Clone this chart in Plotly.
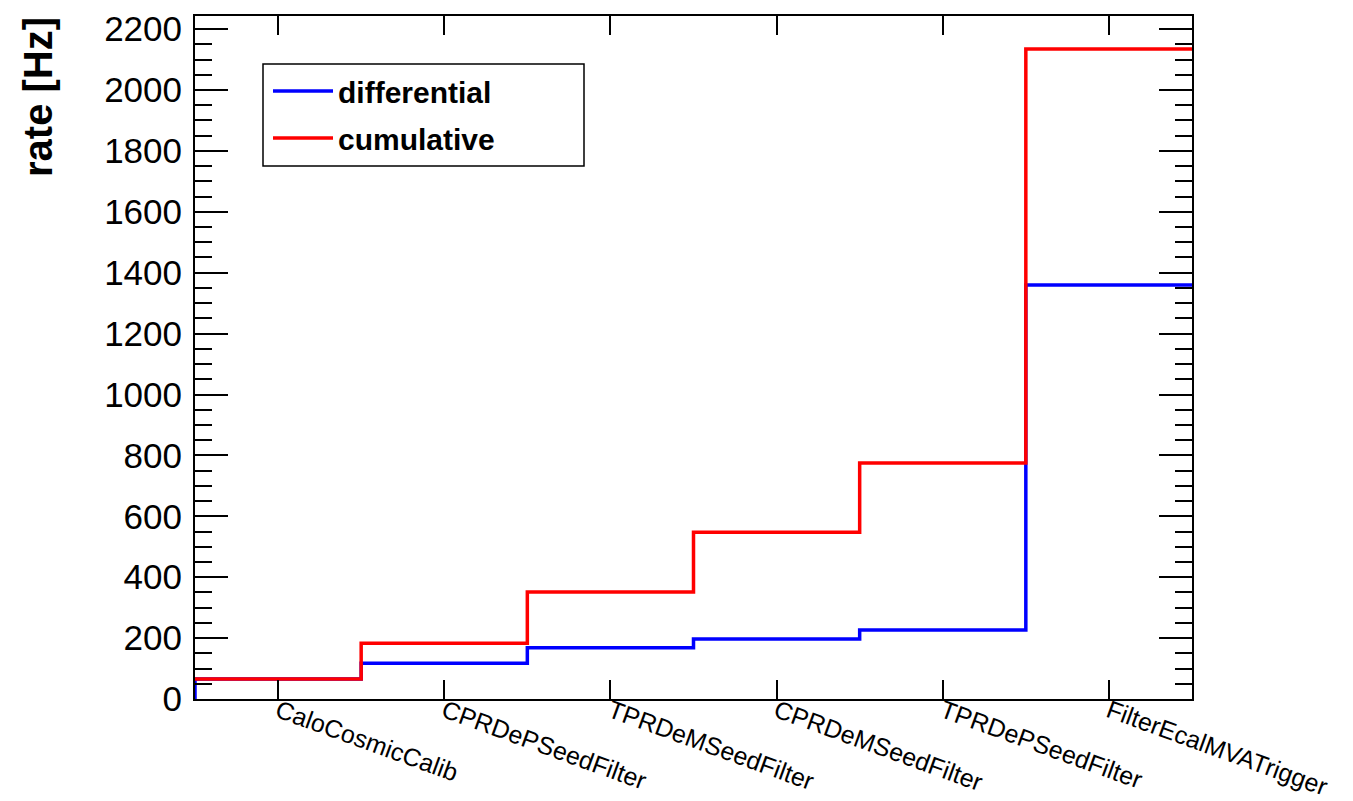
import plotly.graph_objects as go

categories = ["CaloCosmicCalib", "CPRDePSeedFilter", "TPRDeMSeedFilter",
              "CPRDeMSeedFilter", "TPRDePSeedFilter", "FilterEcalMVATrigger"]
differential = [66, 117, 168, 197, 227, 1360]
cumulative = [66, 183, 351, 548, 775, 2135]
y_max = 2243

n = len(categories)
edges = list(range(n + 1))
centers = [i + 0.5 for i in range(n)]

FONT = "Liberation Sans, Arial, Helvetica, sans-serif"

fig = go.Figure()
fig.add_trace(go.Scatter(
    x=[edges[0]] + edges, y=[0] + differential + [differential[-1]],
    mode="lines", line=dict(color="#0000ff", width=3.5, shape="hv"),
    name="differential", legendgroup="a"))
fig.add_trace(go.Scatter(
    x=edges, y=cumulative + [cumulative[-1]],
    mode="lines", line=dict(color="#ff0000", width=3.5, shape="hv"),
    name="cumulative", legendgroup="b"))

W, H = 1353, 801
L, R, T, B = 195, 1353 - 1192, 16, 801 - 699
pw, ph = W - L - R, H - T - B

def px_x(v):
    return (v - L) / pw

def px_y(v):
    return 1 - (v - T) / ph

fig.update_layout(
    width=W, height=H,
    margin=dict(l=L, r=R, t=T, b=B, autoexpand=False),
    paper_bgcolor="white", plot_bgcolor="white",
    font=dict(family=FONT, color="black"),
    showlegend=True,
    legend=dict(
        x=px_x(268), y=px_y(65), xanchor="left", yanchor="top",
        bgcolor="rgba(0,0,0,0)", borderwidth=0,
        font=dict(family=FONT, size=30, color="black", weight="bold"),
        tracegroupgap=5, traceorder="grouped", itemwidth=60,
    ),
    shapes=[dict(type="rect", xref="paper", yref="paper",
                 x0=px_x(263), x1=px_x(584), y0=px_y(166), y1=px_y(64),
                 line=dict(color="black", width=1.5), fillcolor="white", layer="below")],
    annotations=[dict(
        text="rate [Hz]", textangle=-90, xref="paper", yref="paper",
        x=px_x(38), y=px_y(15), xanchor="center", yanchor="top",
        showarrow=False, font=dict(family=FONT, size=40, color="black", weight="bold"))],
)

fig.update_xaxes(
    range=[edges[0], edges[-1]], tickmode="array", tickvals=centers, ticktext=categories,
    tickangle=20, ticks="inside", ticklen=19, tickwidth=1.5, tickcolor="black",
    showline=True, linewidth=2, linecolor="black", mirror="ticks",
    showgrid=False, zeroline=False, automargin=False, ticklabelstandoff=-14,
    tickfont=dict(family=FONT, size=25, color="black"),
)
fig.update_yaxes(
    range=[0, y_max], tickmode="linear", tick0=0, dtick=200,
    ticks="inside", ticklen=33, tickwidth=1.5, tickcolor="black",
    minor=dict(ticks="inside", ticklen=17, tickwidth=1.5, tickcolor="black", dtick=50, showgrid=False),
    showline=True, linewidth=2, linecolor="black", mirror="ticks",
    showgrid=False, zeroline=False, automargin=False, ticklabelstandoff=4,
    tickfont=dict(family=FONT, size=35, color="black"),
)

fig.write_html("out.html", config={"displayModeBar": False},
               post_script="document.body.style.margin='0';document.body.style.overflow='hidden';")
